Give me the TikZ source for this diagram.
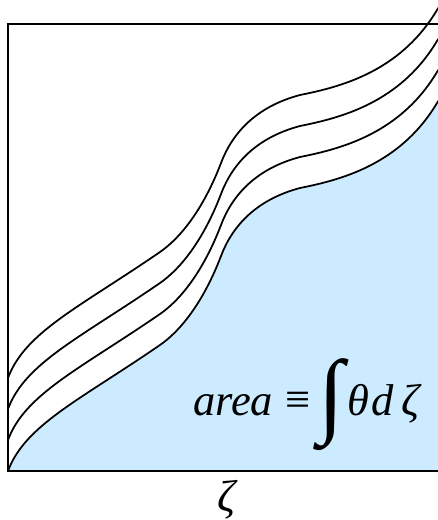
\documentclass[tikz,border=0pt]{standalone}
\usepackage{fontspec}
\setmainfont{Liberation Serif}
\definecolor{areablue}{HTML}{CCEBFF}
\begin{document}
\begin{tikzpicture}[
        x=0.03cm,
        y=-0.03cm,
        frame/.style={draw=black, line width=1.6pt},
        curve/.style={draw=black, line width=1.5pt},
        every node/.style={
            inner sep=0pt,
            anchor=base west,
            font=\fontsize{38}{40}\selectfont\itshape
        }
    ]
    \useasboundingbox (0,0) rectangle (438,520);
    \clip (0,0) rectangle (438,520);

    % Área
    \fill[areablue] (8,471) .. controls (25,425) and (80,400) .. (160,345)
        .. controls (190,324) and (210,285) .. (221,256)
        .. controls (232,227) and (255,200) .. (300,188)
        .. controls (340,180) and (400,165) .. (437,103)
        -- (470,55) -- (470,471) -- cycle;

    % Marco
    \draw[frame] (8,24) rectangle (445,471);

    % Curvas
    \foreach \k in {0,1,2,3}
        \draw[curve, shift={(0,-31*\k)}] (8,471) .. controls (25,425) and (80,400) .. (160,345)
            .. controls (190,324) and (210,285) .. (221,256)
            .. controls (232,227) and (255,200) .. (300,188)
            .. controls (340,180) and (400,165) .. (437,103)
            -- (470,55);

    % Textos
    \node (area) at (193,415) {area};
    \node[anchor=center, font=\fontsize{38}{40}\selectfont] (equiv) at (298,403) {≡};
    \node[anchor=center, font=\fontsize{80}{80}\selectfont] (integral) at (331,405) {∫};
    \node (theta) at (347,415) {θ};
    \node (dvar) at (371,415) {d};
    \node (dzeta) at (401,415) {ζ};
    \node[anchor=center] (zeta) at (227,500) {ζ};

\end{tikzpicture}
\end{document}
